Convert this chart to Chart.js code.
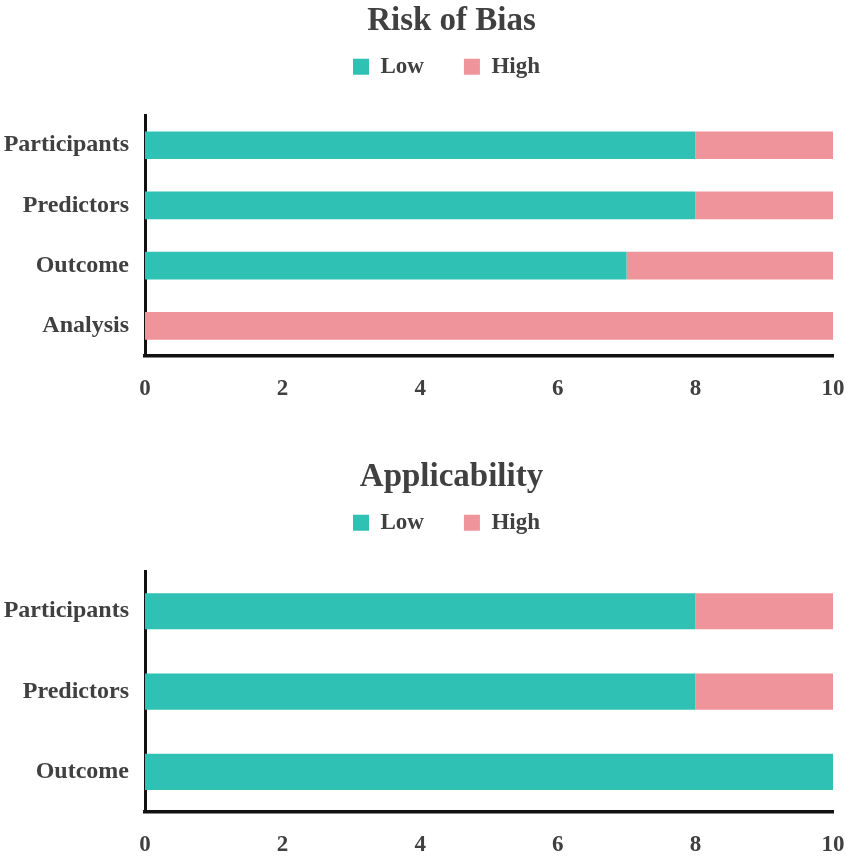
<!DOCTYPE html>
<html>
<head>
<meta charset="utf-8">
<script src="https://cdn.jsdelivr.net/npm/chart.js@4.4.1/dist/chart.umd.min.js"></script>
<style>
  html, body { margin: 0; background: #fff; overflow: hidden; }
  canvas { position: absolute; left: 0; }
</style>
</head>
<body>
<canvas id="grafico_risco" width="851" height="403" style="top:0px"></canvas>
<canvas id="grafico_aplic" width="851" height="403" style="top:456px"></canvas>
<script>
// dados
var riscoCategorias = ['Participants', 'Predictors', 'Outcome', 'Analysis'];
var riscoLow = [8, 8, 7, 0];
var riscoHigh = [2, 2, 3, 10];

var aplicCategorias = ['Participants', 'Predictors', 'Outcome'];
var aplicLow = [8, 8, 10];
var aplicHigh = [2, 2, 0];

var xTicks = [0, 2, 4, 6, 8, 10];

var corLow = '#2FC1B4';
var corHigh = '#F0949C';
var corTexto = '#404040';
var fonte = '"Liberation Serif", "Times New Roman", serif';

// ajusta posicao do titulo e da legenda
var ajusteLayout = {
  id: 'ajusteLayout',
  beforeInit: function(chart) {
    var leg = chart.legend;
    var origFit = leg.fit;
    leg.fit = function() {
      origFit.call(this);
      this.height = 75;
    };
  },
  afterLayout: function(chart) {
    var leg = chart.legend;
    leg.top -= 25;
    leg.bottom -= 25;
    leg.left += 30;
    leg.right += 30;
    var t = chart.titleBlock;
    t.left += 35;
    t.right += 35;
  }
};

function criarGrafico(id, titulo, categorias, low, high, espessura) {
  return new Chart(document.getElementById(id), {
    type: 'bar',
    data: {
      labels: categorias,
      datasets: [
        { label: 'Low', data: low, backgroundColor: corLow, borderWidth: 0 },
        { label: 'High', data: high, backgroundColor: corHigh, borderWidth: 0 }
      ]
    },
    options: {
      indexAxis: 'y',
      responsive: false,
      animation: false,
      devicePixelRatio: 1,
      layout: { padding: { left: 0, right: 18, top: 0, bottom: 0 } },
      datasets: { bar: { barPercentage: espessura, categoryPercentage: 1 } },
      plugins: {
        title: {
          display: true,
          text: titulo,
          color: corTexto,
          font: { family: fonte, size: 33, weight: 'bold', lineHeight: 1.125 },
          padding: { top: 3, bottom: 0 }
        },
        legend: {
          display: true,
          labels: {
            color: corTexto,
            font: { family: fonte, size: 23, weight: 'bold' },
            boxWidth: 16,
            boxHeight: 16,
            padding: 40
          }
        },
        tooltip: { enabled: false }
      },
      scales: {
        x: {
          stacked: true,
          min: 0,
          max: 10,
          afterBuildTicks: function(scale) {
            scale.ticks = xTicks.map(function(v) { return { value: v }; });
          },
          afterFit: function(scale) {
            scale.height = 47;
            scale.paddingLeft = 0;
            scale.paddingRight = 0;
          },
          grid: { display: false, drawTicks: false },
          border: { display: true, color: '#111', width: 3.5 },
          ticks: {
            color: corTexto,
            padding: 19,
            font: { family: fonte, size: 23, weight: 'bold' }
          }
        },
        y: {
          stacked: true,
          afterFit: function(scale) { scale.width = 145; },
          grid: { display: false, drawTicks: false },
          border: { display: true, color: '#111', width: 3 },
          ticks: {
            color: corTexto,
            padding: 16,
            font: { family: fonte, size: 24, weight: 'bold' }
          }
        }
      }
    },
    plugins: [ajusteLayout]
  });
}

criarGrafico('grafico_risco', 'Risk of Bias', riscoCategorias, riscoLow, riscoHigh, 0.46);
criarGrafico('grafico_aplic', 'Applicability', aplicCategorias, aplicLow, aplicHigh, 0.45);
</script>
</body>
</html>
